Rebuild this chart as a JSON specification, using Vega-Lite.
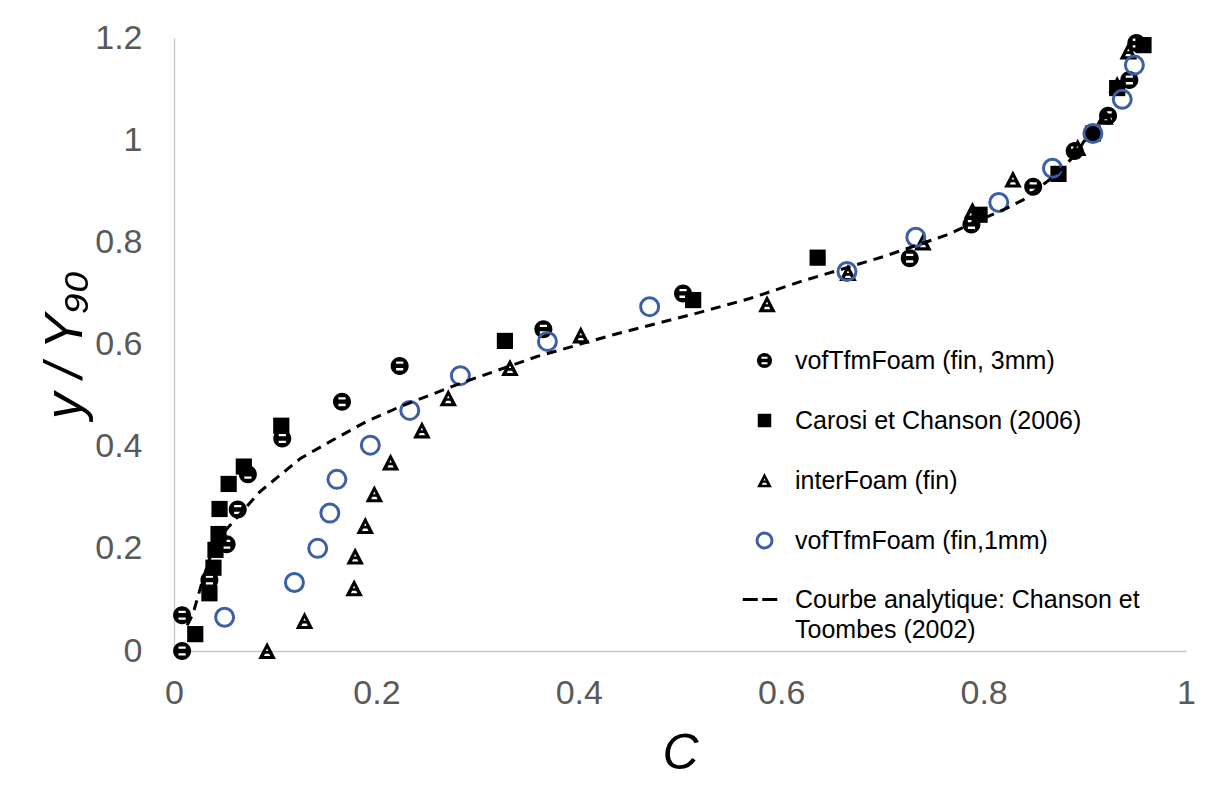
{
  "$schema": "https://vega.github.io/schema/vega-lite/v6.json",
  "width": 1012,
  "height": 613,
  "autosize": {"type": "none"},
  "padding": {"left": 174, "top": 38, "right": 25, "bottom": 145},
  "background": "white",
  "config": {
    "view": {"stroke": null},
    "axis": {
      "grid": false,
      "ticks": false,
      "tickSize": 0,
      "domainColor": "#c6c6c6",
      "domainWidth": 1.3,
      "labelFont": "Liberation Sans",
      "labelFontSize": 34,
      "labelColor": "#595959",
      "labelFlush": false,
      "titleFont": "Liberation Sans",
      "titleFontStyle": "italic",
      "titleFontWeight": "normal",
      "titleFontSize": 50,
      "titleColor": "black"
    },
    "legend": {
      "orient": "none",
      "legendX": 578,
      "legendY": 310,
      "padding": 0,
      "labelFont": "Liberation Sans",
      "labelFontSize": 25,
      "labelColor": "black",
      "labelLimit": 600,
      "labelOffset": 18,
      "rowPadding": 33,
      "symbolSize": 225,
      "symbolStrokeWidth": 3,
      "title": null
    },
    "style": {"guide-label": {"lineHeight": 30}}
  },
  "datasets": {
    "pts": [
      {"series": "vofTfmFoam (fin, 3mm)", "C": 0.008, "y": 0.0},
      {"series": "vofTfmFoam (fin, 3mm)", "C": 0.008, "y": 0.07},
      {"series": "vofTfmFoam (fin, 3mm)", "C": 0.035, "y": 0.139},
      {"series": "vofTfmFoam (fin, 3mm)", "C": 0.052, "y": 0.209},
      {"series": "vofTfmFoam (fin, 3mm)", "C": 0.063, "y": 0.277},
      {"series": "vofTfmFoam (fin, 3mm)", "C": 0.073, "y": 0.346},
      {"series": "vofTfmFoam (fin, 3mm)", "C": 0.107, "y": 0.416},
      {"series": "vofTfmFoam (fin, 3mm)", "C": 0.166, "y": 0.488},
      {"series": "vofTfmFoam (fin, 3mm)", "C": 0.223, "y": 0.558},
      {"series": "vofTfmFoam (fin, 3mm)", "C": 0.365, "y": 0.63},
      {"series": "vofTfmFoam (fin, 3mm)", "C": 0.503, "y": 0.7},
      {"series": "vofTfmFoam (fin, 3mm)", "C": 0.727, "y": 0.769},
      {"series": "vofTfmFoam (fin, 3mm)", "C": 0.788, "y": 0.835},
      {"series": "vofTfmFoam (fin, 3mm)", "C": 0.849, "y": 0.909},
      {"series": "vofTfmFoam (fin, 3mm)", "C": 0.89, "y": 0.979},
      {"series": "vofTfmFoam (fin, 3mm)", "C": 0.923, "y": 1.048},
      {"series": "vofTfmFoam (fin, 3mm)", "C": 0.944, "y": 1.118},
      {"series": "vofTfmFoam (fin, 3mm)", "C": 0.951, "y": 1.19},
      {"series": "Carosi et Chanson (2006)", "C": 0.021, "y": 0.033},
      {"series": "Carosi et Chanson (2006)", "C": 0.035, "y": 0.113},
      {"series": "Carosi et Chanson (2006)", "C": 0.039, "y": 0.163},
      {"series": "Carosi et Chanson (2006)", "C": 0.041, "y": 0.198},
      {"series": "Carosi et Chanson (2006)", "C": 0.044, "y": 0.229},
      {"series": "Carosi et Chanson (2006)", "C": 0.045, "y": 0.278},
      {"series": "Carosi et Chanson (2006)", "C": 0.054, "y": 0.327},
      {"series": "Carosi et Chanson (2006)", "C": 0.069, "y": 0.361},
      {"series": "Carosi et Chanson (2006)", "C": 0.106, "y": 0.441},
      {"series": "Carosi et Chanson (2006)", "C": 0.327, "y": 0.607},
      {"series": "Carosi et Chanson (2006)", "C": 0.513, "y": 0.687},
      {"series": "Carosi et Chanson (2006)", "C": 0.636, "y": 0.77},
      {"series": "Carosi et Chanson (2006)", "C": 0.796, "y": 0.854},
      {"series": "Carosi et Chanson (2006)", "C": 0.874, "y": 0.934},
      {"series": "Carosi et Chanson (2006)", "C": 0.908, "y": 1.013},
      {"series": "Carosi et Chanson (2006)", "C": 0.932, "y": 1.102},
      {"series": "Carosi et Chanson (2006)", "C": 0.958, "y": 1.186},
      {"series": "interFoam (fin)", "C": 0.092, "y": 0.0},
      {"series": "interFoam (fin)", "C": 0.129, "y": 0.059},
      {"series": "interFoam (fin)", "C": 0.178, "y": 0.123},
      {"series": "interFoam (fin)", "C": 0.179, "y": 0.185},
      {"series": "interFoam (fin)", "C": 0.189, "y": 0.245},
      {"series": "interFoam (fin)", "C": 0.198, "y": 0.307},
      {"series": "interFoam (fin)", "C": 0.214, "y": 0.369},
      {"series": "interFoam (fin)", "C": 0.245, "y": 0.432},
      {"series": "interFoam (fin)", "C": 0.271, "y": 0.495},
      {"series": "interFoam (fin)", "C": 0.332, "y": 0.554},
      {"series": "interFoam (fin)", "C": 0.402, "y": 0.618},
      {"series": "interFoam (fin)", "C": 0.586, "y": 0.679},
      {"series": "interFoam (fin)", "C": 0.666, "y": 0.74},
      {"series": "interFoam (fin)", "C": 0.74, "y": 0.8},
      {"series": "interFoam (fin)", "C": 0.789, "y": 0.862},
      {"series": "interFoam (fin)", "C": 0.829, "y": 0.923},
      {"series": "interFoam (fin)", "C": 0.893, "y": 0.985},
      {"series": "interFoam (fin)", "C": 0.92, "y": 1.046},
      {"series": "interFoam (fin)", "C": 0.932, "y": 1.108},
      {"series": "interFoam (fin)", "C": 0.943, "y": 1.174},
      {"series": "vofTfmFoam (fin,1mm)", "C": 0.05, "y": 0.066},
      {"series": "vofTfmFoam (fin,1mm)", "C": 0.119, "y": 0.134},
      {"series": "vofTfmFoam (fin,1mm)", "C": 0.142, "y": 0.201},
      {"series": "vofTfmFoam (fin,1mm)", "C": 0.154, "y": 0.27},
      {"series": "vofTfmFoam (fin,1mm)", "C": 0.161, "y": 0.336},
      {"series": "vofTfmFoam (fin,1mm)", "C": 0.194, "y": 0.403},
      {"series": "vofTfmFoam (fin,1mm)", "C": 0.233, "y": 0.471},
      {"series": "vofTfmFoam (fin,1mm)", "C": 0.283, "y": 0.539},
      {"series": "vofTfmFoam (fin,1mm)", "C": 0.369, "y": 0.606},
      {"series": "vofTfmFoam (fin,1mm)", "C": 0.47, "y": 0.674},
      {"series": "vofTfmFoam (fin,1mm)", "C": 0.665, "y": 0.743},
      {"series": "vofTfmFoam (fin,1mm)", "C": 0.733, "y": 0.81},
      {"series": "vofTfmFoam (fin,1mm)", "C": 0.815, "y": 0.878},
      {"series": "vofTfmFoam (fin,1mm)", "C": 0.868, "y": 0.945},
      {"series": "vofTfmFoam (fin,1mm)", "C": 0.908, "y": 1.013},
      {"series": "vofTfmFoam (fin,1mm)", "C": 0.937, "y": 1.08},
      {"series": "vofTfmFoam (fin,1mm)", "C": 0.949, "y": 1.147}
    ],
    "curve": [
      {"C": 0.013, "y": 0.05},
      {"C": 0.019, "y": 0.074},
      {"C": 0.027, "y": 0.13},
      {"C": 0.035, "y": 0.18},
      {"C": 0.044, "y": 0.22},
      {"C": 0.054, "y": 0.243},
      {"C": 0.085, "y": 0.312},
      {"C": 0.125, "y": 0.377},
      {"C": 0.157, "y": 0.413},
      {"C": 0.19, "y": 0.449},
      {"C": 0.223, "y": 0.478},
      {"C": 0.283, "y": 0.524},
      {"C": 0.358, "y": 0.576},
      {"C": 0.434, "y": 0.619},
      {"C": 0.516, "y": 0.661},
      {"C": 0.569, "y": 0.69},
      {"C": 0.619, "y": 0.723},
      {"C": 0.701, "y": 0.772},
      {"C": 0.763, "y": 0.814},
      {"C": 0.823, "y": 0.867},
      {"C": 0.839, "y": 0.883},
      {"C": 0.87, "y": 0.93},
      {"C": 0.89, "y": 0.97},
      {"C": 0.9, "y": 1.0}
    ]
  },
  "encoding": {
    "x": {
      "field": "C",
      "type": "quantitative",
      "scale": {"domain": [0, 1], "nice": false},
      "axis": {"values": [0, 0.2, 0.4, 0.6, 0.8, 1], "format": "~g", "labelPadding": 25, "title": "C", "titlePadding": 18}
    },
    "y": {
      "field": "y",
      "type": "quantitative",
      "scale": {"domain": [0, 1.2], "nice": false},
      "axis": {"values": [0, 0.2, 0.4, 0.6, 0.8, 1, 1.2], "format": "~g", "labelPadding": 32, "title": "y / Y₉₀", "titlePadding": 2, "titleFontSize": 53}
    }
  },
  "layer": [
    {
      "data": {"name": "pts"},
      "mark": {"type": "point", "size": 324, "strokeWidth": 3, "opacity": 1, "filled": true},
      "encoding": {
        "shape": {
          "field": "series",
          "type": "nominal",
          "scale": {
            "domain": ["vofTfmFoam (fin, 3mm)", "Carosi et Chanson (2006)", "interFoam (fin)", "vofTfmFoam (fin,1mm)", "Courbe analytique: Chanson et Toombes (2002)"],
            "range": [
              "M1,0 A1,1 0 1,1 -1,0 A1,1 0 1,1 1,0 Z M-0.4,-0.5 L-0.4,-0.24 L0.4,-0.24 L0.4,-0.5 Z M-0.4,0.24 L-0.4,0.5 L0.4,0.5 L0.4,0.24 Z",
              "M-0.9,-0.9 L0.9,-0.9 L0.9,0.9 L-0.9,0.9 Z",
              "M0,-1 L0.98,0.9 L-0.98,0.9 Z M0,-0.28 L-0.14,0.0 L0.14,0.0 Z M-0.22,0.3 L-0.36,0.56 L0.36,0.56 L0.22,0.3 Z",
              "circle",
              "M-2.9,0 L-0.9,0 M-0.3,0 L1.7,0"
            ]
          },
          "legend": {"labelExpr": "datum.label == 'Courbe analytique: Chanson et Toombes (2002)' ? ['Courbe analytique: Chanson et', 'Toombes (2002)'] : datum.label"}
        },
        "fill": {
          "field": "series",
          "type": "nominal",
          "scale": {
            "domain": ["vofTfmFoam (fin, 3mm)", "Carosi et Chanson (2006)", "interFoam (fin)", "vofTfmFoam (fin,1mm)", "Courbe analytique: Chanson et Toombes (2002)"],
            "range": ["black", "black", "black", "transparent", "transparent"]
          },
          "legend": {"labelExpr": "datum.label == 'Courbe analytique: Chanson et Toombes (2002)' ? ['Courbe analytique: Chanson et', 'Toombes (2002)'] : datum.label"}
        },
        "stroke": {
          "field": "series",
          "type": "nominal",
          "scale": {
            "domain": ["vofTfmFoam (fin, 3mm)", "Carosi et Chanson (2006)", "interFoam (fin)", "vofTfmFoam (fin,1mm)", "Courbe analytique: Chanson et Toombes (2002)"],
            "range": ["transparent", "transparent", "transparent", "#3d5fa6", "black"]
          },
          "legend": {"labelExpr": "datum.label == 'Courbe analytique: Chanson et Toombes (2002)' ? ['Courbe analytique: Chanson et', 'Toombes (2002)'] : datum.label"}
        }
      }
    },
    {
      "data": {"name": "curve"},
      "mark": {"type": "line", "color": "black", "strokeWidth": 3, "strokeDash": [10, 7]},
      "encoding": {"order": {"field": "y", "type": "quantitative"}}
    }
  ]
}
